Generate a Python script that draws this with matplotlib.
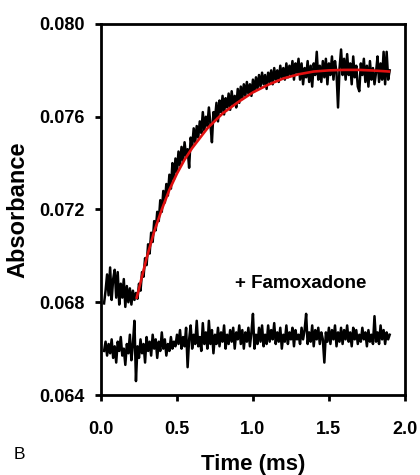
import numpy as np
import matplotlib
matplotlib.use("Agg")
import matplotlib.pyplot as plt

plt.rcParams['font.family'] = ['Liberation Sans', 'DejaVu Sans']

# Sampling grid of the stopped-flow traces (ms)
time_ms = np.round(np.arange(0.02, 1.905, 0.01), 2)

# Control trace: baseline, then rise after mixing
control_abs = [
    0.06795, 0.06850, 0.06920, 0.06830, 0.06950, 0.06810, 0.06900, 0.06940, 0.06820, 0.06930,
    0.06790, 0.06880, 0.06820, 0.06900, 0.06780, 0.06870, 0.06800, 0.06860, 0.06790, 0.06850,
    0.06810, 0.06840,
    0.06815, 0.06880, 0.06850, 0.06930, 0.06910, 0.06990, 0.06960, 0.07050, 0.07010, 0.07100,
    0.07060, 0.07150, 0.07110, 0.07190, 0.07150, 0.07240, 0.07190, 0.07280, 0.07230, 0.07310,
    0.07260, 0.07350, 0.07290, 0.07400, 0.07330, 0.07420, 0.07360, 0.07450, 0.07390, 0.07470,
    0.07410, 0.07490, 0.07430, 0.07460, 0.07380, 0.07510, 0.07470, 0.07550, 0.07490, 0.07560,
    0.07510, 0.07580, 0.07530, 0.07620, 0.07540, 0.07600, 0.07560, 0.07640, 0.07570, 0.07490,
    0.07620, 0.07590, 0.07660, 0.07580, 0.07670, 0.07620, 0.07690, 0.07610, 0.07680, 0.07640,
    0.07700, 0.07630, 0.07710, 0.07650, 0.07690, 0.07640, 0.07720, 0.07660, 0.07730, 0.07680,
    0.07740, 0.07690, 0.07750, 0.07700, 0.07740, 0.07690, 0.07760, 0.07710, 0.07770, 0.07720,
    0.07780, 0.07730, 0.07790, 0.07740, 0.07780, 0.07720, 0.07790, 0.07750, 0.07800, 0.07740,
    0.07810, 0.07760, 0.07800, 0.07750, 0.07820, 0.07770, 0.07810, 0.07760, 0.07830, 0.07770,
    0.07820, 0.07780, 0.07840, 0.07760, 0.07830, 0.07790, 0.07850, 0.07760, 0.07830, 0.07740,
    0.07810, 0.07770, 0.07840, 0.07750, 0.07820, 0.07730, 0.07830, 0.07780, 0.07880, 0.07760,
    0.07820, 0.07750, 0.07840, 0.07770, 0.07850, 0.07740, 0.07830, 0.07780, 0.07860, 0.07760,
    0.07840, 0.07790, 0.07640, 0.07810, 0.07890, 0.07780, 0.07850, 0.07760, 0.07870, 0.07780,
    0.07830, 0.07740, 0.07860, 0.07770, 0.07820, 0.07730, 0.07710, 0.07830, 0.07780, 0.07850,
    0.07750, 0.07820, 0.07730, 0.07840, 0.07760, 0.07810, 0.07740, 0.07790, 0.07860, 0.07750,
    0.07830, 0.07760, 0.07880, 0.07740, 0.07880, 0.07760, 0.07800,
]

# Trace recorded in the presence of famoxadone
famox_abs = [
    0.06590, 0.06630, 0.06570, 0.06620, 0.06580, 0.06640, 0.06560, 0.06610, 0.06540, 0.06630,
    0.06590, 0.06650, 0.06570, 0.06600, 0.06530, 0.06620, 0.06580, 0.06660, 0.06550, 0.06620,
    0.06720, 0.06460, 0.06610, 0.06560, 0.06640, 0.06580, 0.06620, 0.06540, 0.06650, 0.06590,
    0.06630, 0.06570, 0.06660, 0.06600, 0.06640, 0.06560, 0.06630, 0.06590, 0.06670, 0.06600,
    0.06640, 0.06570, 0.06620, 0.06590, 0.06650, 0.06600, 0.06630, 0.06610, 0.06660, 0.06620,
    0.06680, 0.06600, 0.06650, 0.06610, 0.06690, 0.06520, 0.06640, 0.06700, 0.06600, 0.06660,
    0.06620, 0.06720, 0.06610, 0.06650, 0.06590, 0.06710, 0.06620, 0.06670, 0.06600, 0.06720,
    0.06620, 0.06680, 0.06580, 0.06660, 0.06620, 0.06690, 0.06610, 0.06670, 0.06630, 0.06700,
    0.06600, 0.06660, 0.06620, 0.06680, 0.06630, 0.06690, 0.06600, 0.06670, 0.06640, 0.06700,
    0.06620, 0.06680, 0.06600, 0.06670, 0.06630, 0.06690, 0.06610, 0.06670, 0.06750, 0.06600,
    0.06660, 0.06620, 0.06690, 0.06630, 0.06700, 0.06610, 0.06660, 0.06620, 0.06700, 0.06630,
    0.06680, 0.06640, 0.06710, 0.06620, 0.06670, 0.06630, 0.06690, 0.06600, 0.06660, 0.06630,
    0.06700, 0.06620, 0.06670, 0.06640, 0.06690, 0.06610, 0.06680, 0.06640, 0.06660, 0.06620,
    0.06690, 0.06640, 0.06680, 0.06750, 0.06620, 0.06670, 0.06630, 0.06700, 0.06610, 0.06680,
    0.06640, 0.06690, 0.06620, 0.06670, 0.06640, 0.06540, 0.06670, 0.06630, 0.06690, 0.06620,
    0.06680, 0.06640, 0.06700, 0.06610, 0.06670, 0.06630, 0.06690, 0.06620, 0.06680, 0.06640,
    0.06700, 0.06630, 0.06670, 0.06610, 0.06690, 0.06640, 0.06680, 0.06620, 0.06660, 0.06630,
    0.06690, 0.06640, 0.06670, 0.06610, 0.06680, 0.06630, 0.06660, 0.06620, 0.06740, 0.06630,
    0.06670, 0.06620, 0.06700, 0.06640, 0.06680, 0.06620, 0.06670, 0.06640, 0.06660,
]

# Fitted rise of the control trace
fit_time = [0.235, 0.30, 0.35, 0.40, 0.45, 0.50, 0.55, 0.60, 0.70, 0.80, 0.90,
            1.00, 1.10, 1.20, 1.30, 1.40, 1.50, 1.60, 1.70, 1.80, 1.895]
fit_abs = [0.06820, 0.06990, 0.07105, 0.07200, 0.07285, 0.07355, 0.07415, 0.07465,
           0.07550, 0.07614, 0.07662, 0.07705, 0.07738, 0.07765, 0.07783, 0.07795,
           0.07800, 0.07802, 0.07802, 0.07799, 0.07795]

x_ticks = [0.0, 0.5, 1.0, 1.5, 2.0]
y_ticks = [0.064, 0.068, 0.072, 0.076, 0.080]

fig = plt.figure(figsize=(4.2, 4.75), dpi=100)
ax = fig.add_axes([0.2405, 0.1684, 0.7235, 0.7811])

ax.plot(time_ms, control_abs, color='black', lw=1.8, zorder=2)
ax.plot(time_ms, famox_abs, color='black', lw=1.8, zorder=2)
ax.plot(fit_time, fit_abs, color='#e01010', lw=1.9, zorder=3)

ax.set_xlim(0.0, 2.0)
ax.set_ylim(0.064, 0.080)
ax.set_xticks(x_ticks)
ax.set_yticks(y_ticks)
ax.set_xticklabels([f"{v:.1f}" for v in x_ticks])
ax.set_yticklabels([f"{v:.3f}" for v in y_ticks])

for s in ax.spines.values():
    s.set_linewidth(2.0)
ax.tick_params(axis='both', direction='out', length=4, width=2.0,
               labelsize=13)
ax.tick_params(axis='x', pad=15)
ax.tick_params(axis='y', pad=8)
for lbl in ax.get_xticklabels() + ax.get_yticklabels():
    lbl.set_fontweight('bold')

ax.set_xlabel('Time (ms)', fontsize=16, fontweight='bold', labelpad=11)
ax.set_ylabel('Absorbance', fontsize=17, fontweight='bold', labelpad=7)

ax.text(1.3125, 0.06883, '+ Famoxadone', fontsize=13.5, fontweight='bold',
        ha='center', va='center')
fig.text(0.045, 0.043, 'B', fontsize=12.5, ha='center', va='center')

fig.savefig('out.png', dpi=100)
